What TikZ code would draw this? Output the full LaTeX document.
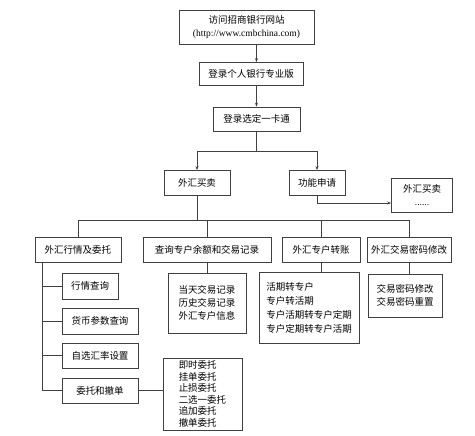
\documentclass[tikz,border=0pt]{standalone}
\usepackage{fontspec}
\setmainfont{Liberation Serif}
\newfontfamily\cjk{Noto Sans CJK SC}
\usetikzlibrary{arrows.meta}

\begin{document}
\begin{tikzpicture}[x=1pt, y=-1pt,
	box/.style={draw=black!75, line width=0.7pt, inner sep=1pt, align=center,
		font=\cjk\fontsize{9.5}{13}\selectfont},
	lnk/.style={draw=black!75, line width=0.7pt},
	arr/.style={lnk, -{Stealth[length=4pt, width=3pt]}}]
	\useasboundingbox (0,0) rectangle (475,436);

	% Einstieg
	\node[box, minimum width=135pt, minimum height=34pt] (web) at (246.5, 27) {访问招商银行网站\\{\rmfamily (http://www.cmbchina.com)}};
	\node[box, minimum width=104pt, minimum height=23pt] (login) at (251, 74) {登录个人银行专业版};
	\node[box, minimum width=87pt, minimum height=24pt] (card) at (256.5, 119) {登录选定一卡通};

	\draw[arr] (web.south -| card.north) -- (login.north -| card.north);
	\draw[arr] (login.south -| card.north) -- (card.north);

	% Ebene 1
	\node[box, minimum width=66pt, minimum height=25pt] (fx) at (197, 183) {外汇买卖};
	\node[box, minimum width=56pt, minimum height=25pt] (apply) at (317, 183) {功能申请};
	\node[box, minimum width=61pt, minimum height=34pt] (more) at (422, 195) {外汇买卖\\{\rmfamily ......}};

	\coordinate (split) at (256.5, 151);
	\draw[lnk] (card.south) -- (split);
	\draw[lnk] (fx |- split) -- (apply |- split);
	\draw[arr] (fx |- split) -- (fx);
	\draw[arr] (apply |- split) -- (apply);
	\draw[arr] (apply.south) |- ([yshift=-8pt]more.west);

	% Ebene 2
	\node[box, minimum width=86pt, minimum height=25pt] (quote) at (78, 249.5) {外汇行情及委托};
	\node[box, minimum width=128pt, minimum height=25pt] (query) at (207, 249.5) {查询专户余额和交易记录};
	\node[box, minimum width=78pt, minimum height=25pt] (transfer) at (321, 249.5) {外汇专户转账};
	\node[box, minimum width=84pt, minimum height=25pt] (pwd) at (409, 249.5) {外汇交易密码修改};

	\coordinate (bus) at (0, 220);
	\draw[lnk] (quote) |- (pwd |- bus) -- (pwd);
	\draw[lnk] (fx) -- (fx |- bus);
	\draw[lnk] (query) -- (query |- bus);
	\draw[lnk] (transfer) -- (transfer |- bus);

	% Ebene 3
	\node[box, minimum width=56pt, minimum height=26pt] (q1) at (90, 286) {行情查询};
	\node[box, minimum width=76pt, minimum height=26pt] (q2) at (100, 321) {货币参数查询};
	\node[box, minimum width=76pt, minimum height=25pt] (q3) at (100, 355.5) {自选汇率设置};
	\node[box, minimum width=76pt, minimum height=25pt] (q4) at (100, 390.5) {委托和撤单};

	\coordinate (spine) at (42, 262);
	\draw[lnk] (spine) |- (q4.west);
	\foreach \n in {q1,q2,q3}
		\draw[lnk] (\n.west) -- (\n.west -| spine);

	\node[box, minimum width=79pt, minimum height=72pt, align=left, font=\cjk\fontsize{9.5}{11.5}\selectfont] (orders) at (202.5, 394) {即时委托\\挂单委托\\止损委托\\二选一委托\\追加委托\\撤单委托};
	\draw[lnk] (q4.east) -- (q4.east -| orders.west);

	\node[box, minimum width=78pt, minimum height=60pt, align=left] (records) at (207, 303) {当天交易记录\\历史交易记录\\外汇专户信息};
	\node[box, minimum width=100pt, minimum height=71pt, align=left, font=\cjk\fontsize{9.5}{14}\selectfont] (transfers) at (309, 307.5) {活期转专户\\专户转活期\\专户活期转专户定期\\专户定期转专户活期};
	\node[box, minimum width=74pt, minimum height=43pt] (pwds) at (405, 295.5) {交易密码修改\\交易密码重置};

	\draw[lnk] (query.south) -- (query.south |- records.north);
	\draw[lnk] (transfer.south) -- (transfer.south |- transfers.north);
	\draw[lnk] (pwd.south) -- (pwd.south |- pwds.north);
\end{tikzpicture}
\end{document}
